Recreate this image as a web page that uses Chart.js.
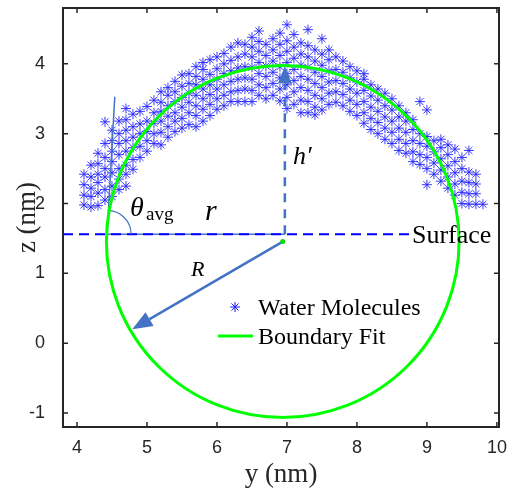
<!DOCTYPE html>
<html>
<head>
<meta charset="utf-8">
<script src="https://cdn.jsdelivr.net/npm/chart.js@4.4.1/dist/chart.umd.min.js"></script>
<style>
  html, body { margin: 0; padding: 0; background: #fff; }
  #wrap { width: 507px; height: 492px; }
</style>
</head>
<body>
<div id="wrap"><canvas id="dropChart" width="507" height="492"></canvas></div>
<script>
// water molecule positions, one column per y value: [y, [z values]]
const moleculeCols = [
  [4.1, [1.98, 2.12, 2.27, 2.42]],
  [4.2, [1.95, 2.1, 2.22, 2.38, 2.55]],
  [4.3, [1.97, 2.15, 2.3, 2.42, 2.57, 2.72]],
  [4.4, [2.05, 2.2, 2.38, 2.5, 2.66, 2.86, 3.17]],
  [4.5, [2.1, 2.25, 2.44, 2.6, 2.75, 2.9, 3.05]],
  [4.6, [2.2, 2.35, 2.5, 2.7, 2.86, 3.0, 3.18]],
  [4.7, [2.25, 2.42, 2.55, 2.75, 2.9, 3.05, 3.2, 3.36]],
  [4.8, [2.49, 2.63, 2.8, 2.95, 3.1, 3.28]],
  [4.9, [2.66, 2.82, 3.0, 3.14, 3.32]],
  [5.0, [2.75, 2.9, 3.03, 3.18, 3.39]],
  [5.1, [2.86, 3.0, 3.15, 3.3, 3.48]],
  [5.2, [2.84, 3.02, 3.18, 3.32, 3.45, 3.6]],
  [5.3, [2.95, 3.1, 3.25, 3.4, 3.55, 3.66]],
  [5.4, [3.03, 3.18, 3.3, 3.46, 3.6, 3.75]],
  [5.5, [3.08, 3.22, 3.38, 3.52, 3.68, 3.84]],
  [5.6, [3.13, 3.3, 3.45, 3.58, 3.72, 3.86]],
  [5.7, [3.1, 3.26, 3.4, 3.55, 3.7, 3.82, 3.96]],
  [5.8, [3.18, 3.35, 3.5, 3.64, 3.78, 3.92, 4.02]],
  [5.9, [3.26, 3.42, 3.56, 3.7, 3.85, 4.06]],
  [6.0, [3.35, 3.5, 3.64, 3.78, 3.93, 4.1]],
  [6.1, [3.4, 3.55, 3.7, 3.86, 4.0, 4.15]],
  [6.2, [3.46, 3.6, 3.75, 3.9, 4.05, 4.24]],
  [6.3, [3.46, 3.62, 3.78, 3.94, 4.1, 4.3]],
  [6.4, [3.46, 3.64, 3.8, 3.96, 4.14, 4.28]],
  [6.5, [3.46, 3.62, 3.78, 3.95, 4.1, 4.24, 4.38]],
  [6.6, [3.55, 3.7, 3.86, 4.02, 4.18, 4.32, 4.47]],
  [6.7, [3.5, 3.66, 3.82, 3.97, 4.12, 4.28]],
  [6.8, [3.55, 3.72, 3.88, 4.04, 4.2, 4.36]],
  [6.9, [3.47, 3.64, 3.8, 3.96, 4.12, 4.28, 4.44]],
  [7.0, [3.36, 3.52, 3.7, 3.86, 4.02, 4.18, 4.33, 4.56]],
  [7.1, [3.42, 3.6, 3.76, 3.92, 4.08, 4.24, 4.42]],
  [7.2, [3.3, 3.48, 3.66, 3.82, 3.98, 4.14, 4.3]],
  [7.3, [3.3, 3.46, 3.62, 3.78, 3.95, 4.1, 4.26, 4.49]],
  [7.4, [3.27, 3.38, 3.55, 3.72, 3.88, 4.04, 4.2]],
  [7.5, [3.34, 3.5, 3.66, 3.82, 3.98, 4.14, 4.36]],
  [7.6, [3.42, 3.58, 3.74, 3.9, 4.06, 4.2]],
  [7.7, [3.45, 3.6, 3.76, 3.92, 4.1]],
  [7.8, [3.4, 3.56, 3.72, 3.88, 4.04]],
  [7.9, [3.32, 3.48, 3.64, 3.8, 3.96]],
  [8.0, [3.26, 3.42, 3.58, 3.74, 3.9]],
  [8.1, [3.15, 3.3, 3.46, 3.62, 3.78, 3.86]],
  [8.2, [3.06, 3.22, 3.38, 3.54, 3.7]],
  [8.3, [3.0, 3.16, 3.32, 3.48, 3.64]],
  [8.4, [2.92, 3.08, 3.24, 3.4, 3.58]],
  [8.5, [2.86, 3.02, 3.18, 3.34, 3.5]],
  [8.6, [2.76, 2.92, 3.08, 3.24, 3.4]],
  [8.7, [2.72, 2.86, 3.02, 3.18, 3.3]],
  [8.8, [2.6, 2.74, 2.9, 3.06, 3.2]],
  [8.9, [2.56, 2.7, 2.86, 3.0, 3.46]],
  [9.0, [2.27, 2.5, 2.66, 2.82, 2.96, 3.34]],
  [9.1, [2.42, 2.58, 2.74, 2.9]],
  [9.2, [2.32, 2.48, 2.64, 2.8, 2.92]],
  [9.3, [2.22, 2.38, 2.54, 2.7, 2.84]],
  [9.4, [2.12, 2.28, 2.44, 2.6, 2.78]],
  [9.5, [2.0, 2.16, 2.32, 2.5, 2.66]],
  [9.6, [1.99, 2.14, 2.3, 2.45, 2.76]],
  [9.7, [1.99, 2.14, 2.28, 2.42]],
  [9.8, [1.99]]
];

// boundary fit circle and surface
const fitCenter = [6.94, 1.455];
const fitRadius = 2.52;
const surfaceZ = 1.56;

const xTicks = [4, 5, 6, 7, 8, 9, 10];
const yTicks = [-1, 0, 1, 2, 3, 4];

const waterPoints = [];
moleculeCols.forEach(c => c[1].forEach(z => waterPoints.push({ x: c[0], y: z })));

const steel = '#4472c4';
const boxColor = '#262626';

function arrow(ctx, x0, y0, x1, y1, len, wid) {
  const a = Math.atan2(y1 - y0, x1 - x0);
  const bx = x1 - len * Math.cos(a), by = y1 - len * Math.sin(a);
  ctx.beginPath();
  ctx.moveTo(x0, y0);
  ctx.lineTo(bx, by);
  ctx.stroke();
  ctx.beginPath();
  ctx.moveTo(x1, y1);
  ctx.lineTo(bx + wid / 2 * Math.sin(a), by - wid / 2 * Math.cos(a));
  ctx.lineTo(bx - wid / 2 * Math.sin(a), by + wid / 2 * Math.cos(a));
  ctx.closePath();
  ctx.fill();
}

const overlay = {
  id: 'overlay',
  afterDatasetsDraw(chart) {
    const ctx = chart.ctx, sx = chart.scales.x, sy = chart.scales.y;
    const px = v => sx.getPixelForValue(v), py = v => sy.getPixelForValue(v);
    const area = chart.chartArea;
    ctx.save();

    // surface: solid steel line under the dashed blue one
    ctx.strokeStyle = steel;
    ctx.lineWidth = 1.5;
    ctx.beginPath();
    ctx.moveTo(px(4.43), py(surfaceZ));
    ctx.lineTo(px(6.97), py(surfaceZ));
    ctx.stroke();

    ctx.strokeStyle = '#0000ff';
    ctx.lineWidth = 2;
    ctx.setLineDash([10, 6]);
    ctx.beginPath();
    ctx.moveTo(area.left, py(surfaceZ));
    ctx.lineTo(px(8.8), py(surfaceZ));
    ctx.stroke();

    // h' dashed line with arrow
    ctx.strokeStyle = steel;
    ctx.fillStyle = steel;
    ctx.lineWidth = 2.5;
    ctx.setLineDash([9, 7]);
    ctx.beginPath();
    ctx.moveTo(px(6.97), py(surfaceZ));
    ctx.lineTo(px(6.97), py(3.72));
    ctx.stroke();
    ctx.setLineDash([]);
    ctx.beginPath();
    ctx.moveTo(px(6.97), py(3.97));
    ctx.lineTo(px(6.97) - 7, py(3.72));
    ctx.lineTo(px(6.97) + 7, py(3.72));
    ctx.closePath();
    ctx.fill();

    // tangent line and angle arc
    ctx.lineWidth = 1.5;
    ctx.beginPath();
    ctx.moveTo(px(4.43), py(surfaceZ));
    ctx.lineTo(px(4.54), py(3.53));
    ctx.stroke();
    const ta = Math.atan2(py(3.53) - py(surfaceZ), px(4.54) - px(4.43));
    ctx.lineWidth = 1.2;
    ctx.beginPath();
    ctx.arc(px(4.43), py(surfaceZ), 24, ta, 0);
    ctx.stroke();

    // green boundary circle
    ctx.strokeStyle = '#00ff00';
    ctx.lineWidth = 3;
    ctx.beginPath();
    ctx.ellipse(px(fitCenter[0]), py(fitCenter[1]),
      px(fitCenter[0] + fitRadius) - px(fitCenter[0]),
      py(fitCenter[1]) - py(fitCenter[1] + fitRadius), 0, 0, Math.PI * 2);
    ctx.stroke();

    // R arrow
    ctx.strokeStyle = steel;
    ctx.fillStyle = steel;
    ctx.lineWidth = 2.5;
    arrow(ctx, px(fitCenter[0]), py(fitCenter[1]), px(4.79), py(0.2), 20, 16);

    ctx.fillStyle = '#00dd00';
    ctx.beginPath();
    ctx.arc(px(fitCenter[0]), py(fitCenter[1]), 2.5, 0, Math.PI * 2);
    ctx.fill();

    // labels
    ctx.fillStyle = '#000';
    ctx.textBaseline = 'alphabetic';
    ctx.textAlign = 'left';
    ctx.font = 'italic 28px "Liberation Serif"';
    ctx.fillText('\u03b8', 130, 216);
    ctx.font = '19px "Liberation Serif"';
    ctx.fillText('avg', 146, 220);
    ctx.font = 'italic 30px "Liberation Serif"';
    ctx.fillText('r', 205, 220);
    ctx.font = 'italic 26px "Liberation Serif"';
    ctx.fillText('h\u2032', 293, 164);
    ctx.font = 'italic 22px "Liberation Serif"';
    ctx.fillText('R', 191, 276);
    ctx.font = '26px "Liberation Serif"';
    ctx.fillText('Surface', 412, 243);

    // legend
    ctx.font = '24px "Liberation Serif"';
    ctx.fillText('Water Molecules', 258, 315);
    ctx.fillText('Boundary Fit', 258, 344);
    ctx.strokeStyle = '#00ff00';
    ctx.lineWidth = 3;
    ctx.beginPath();
    ctx.moveTo(218, 336);
    ctx.lineTo(253, 336);
    ctx.stroke();
    ctx.strokeStyle = '#1a1aff';
    ctx.lineWidth = 1;
    ctx.beginPath();
    for (let i = 0; i < 4; i++) {
      const a = i * Math.PI / 4;
      ctx.moveTo(235 - 5 * Math.cos(a), 307 - 5 * Math.sin(a));
      ctx.lineTo(235 + 5 * Math.cos(a), 307 + 5 * Math.sin(a));
    }
    ctx.stroke();

    // box and inward ticks
    ctx.strokeStyle = boxColor;
    ctx.lineWidth = 2;
    ctx.strokeRect(area.left, area.top, area.right - area.left, area.bottom - area.top);
    ctx.lineWidth = 1.5;
    ctx.beginPath();
    xTicks.forEach(t => {
      const x = px(t);
      ctx.moveTo(x, area.bottom); ctx.lineTo(x, area.bottom - 5);
      ctx.moveTo(x, area.top); ctx.lineTo(x, area.top + 5);
    });
    yTicks.forEach(t => {
      const y = py(t);
      ctx.moveTo(area.left, y); ctx.lineTo(area.left + 5, y);
      ctx.moveTo(area.right, y); ctx.lineTo(area.right - 5, y);
    });
    ctx.stroke();
    ctx.restore();
  }
};

new Chart(document.getElementById('dropChart'), {
  type: 'scatter',
  data: {
    datasets: [{
      label: 'Water Molecules',
      data: waterPoints,
      pointStyle: 'star',
      pointRadius: 5,
      borderColor: '#2424ff',
      backgroundColor: '#2424ff',
      borderWidth: 0.9
    }]
  },
  options: {
    responsive: false,
    animation: false,
    layout: { autoPadding: false, padding: { top: 8, right: 8, left: 0, bottom: 0 } },
    plugins: { legend: { display: false }, tooltip: { enabled: false } },
    scales: {
      x: {
        type: 'linear',
        min: 3.8,
        max: 10.03,
        afterBuildTicks: s => { s.ticks = xTicks.map(v => ({ value: v })); },
        afterFit: s => { s.height = 65; s.paddingLeft = 0; s.paddingRight = 0; },
        grid: { display: false },
        border: { display: false },
        ticks: {
          padding: 2,
          color: boxColor,
          font: { family: 'Liberation Sans', size: 18 }
        },
        title: {
          display: true,
          text: 'y (nm)',
          color: boxColor,
          padding: { top: 0, bottom: 1 },
          font: { family: 'Liberation Serif', size: 27 }
        }
      },
      y: {
        type: 'linear',
        min: -1.2,
        max: 4.8,
        afterBuildTicks: s => { s.ticks = yTicks.map(v => ({ value: v })); },
        afterFit: s => { s.width = 63; s.paddingTop = 0; s.paddingBottom = 0; },
        grid: { display: false },
        border: { display: false },
        ticks: {
          padding: 10,
          color: boxColor,
          font: { family: 'Liberation Sans', size: 18 }
        },
        title: {
          display: true,
          text: 'z (nm)',
          color: boxColor,
          padding: { top: 12, bottom: 0 },
          font: { family: 'Liberation Serif', size: 27 }
        }
      }
    }
  },
  plugins: [overlay]
});
</script>
</body>
</html>
